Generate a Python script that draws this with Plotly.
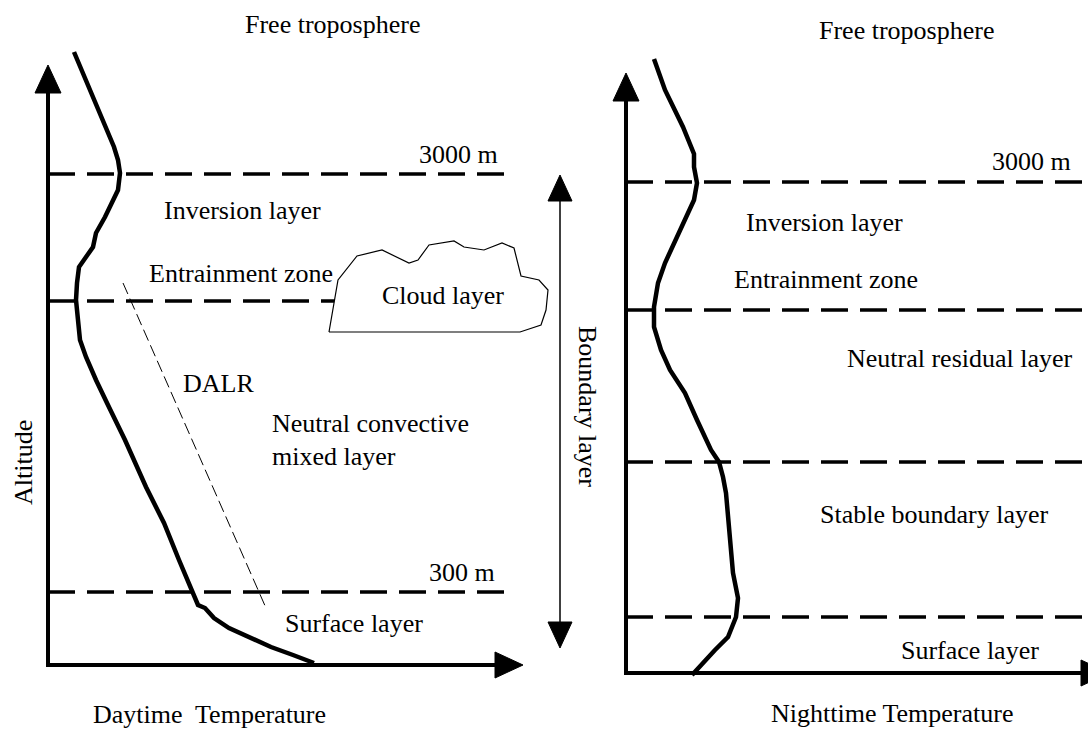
import plotly.graph_objects as go

W, H = 1088, 731

# ---- data: temperature profiles (diagram coordinates) ----
day_x = [74, 86, 104, 114, 118, 120, 118, 112, 105, 96, 93, 86, 79, 77, 76, 78, 80, 86, 91, 96,
         107, 125, 146, 164, 179, 186, 193, 198, 205, 214, 229, 250, 271, 293, 314]
day_y = [52, 80, 123, 147, 160, 173, 190, 203, 217, 233, 247, 257, 267, 283, 300, 320, 340, 357, 370, 380,
         403, 440, 487, 523, 560, 577, 593, 605, 608, 618, 628, 638, 647, 655, 663]

night_x = [654, 665, 683, 694, 694, 697, 694, 686, 676, 665, 658, 654, 654, 661, 670, 685, 697, 711,
           719, 723, 726, 733, 738, 736, 728, 715, 692]
night_y = [59, 90, 127, 154, 167, 183, 200, 217, 240, 263, 283, 307, 327, 350, 370, 393, 420, 450,
           462, 477, 493, 573, 598, 617, 637, 650, 675]

dalr_x = [123, 266]
dalr_y = [283, 608]

cloud_x = [329, 338, 357, 382, 409, 418, 429, 454, 464, 484, 502, 514, 521, 539, 548, 546, 541, 520, 329]
cloud_y = [332, 280, 256, 250, 263, 260, 245, 241, 247, 250, 243, 248, 276, 280, 290, 310, 325, 332, 332]

day_levels = [174, 301, 592]
night_levels = [182, 310, 462, 617]

# ---- layout geometry ----
day_origin = (48, 665)
day_top, day_right = 65, 523
night_origin = (626, 673)
night_top, night_right = 73, 1109
day_dash_end = 504
bl_x, bl_top, bl_bottom = 560, 175, 648

fig = go.Figure()

def line(xs, ys, width=4, dash="solid", color="black"):
    fig.add_trace(go.Scatter(x=xs, y=ys, mode="lines",
                             line=dict(color=color, width=width, dash=dash),
                             hoverinfo="skip", showlegend=False))

def head(tip, direction, length=28, half=13):
    tx, ty = tip
    if direction == "up":
        xs = [tx, tx - half, tx + half, tx]; ys = [ty, ty + length, ty + length, ty]
    elif direction == "down":
        xs = [tx, tx - half, tx + half, tx]; ys = [ty, ty - length, ty - length, ty]
    else:  # right
        xs = [tx, tx - length, tx - length, tx]; ys = [ty, ty - half, ty + half, ty]
    fig.add_trace(go.Scatter(x=xs, y=ys, mode="lines", fill="toself", fillcolor="black",
                             line=dict(color="black", width=1), hoverinfo="skip", showlegend=False))

dash_pat = "27px,12px"

# dashed level lines (left)
for y in day_levels:
    line([day_origin[0], day_dash_end], [y, y], width=3.5, dash=dash_pat)
# dashed level lines (right)
for y in night_levels:
    line([night_origin[0], W + 10], [y, y], width=3.5, dash=dash_pat)

# DALR thin dashed line
line(dalr_x, dalr_y, width=1, dash="12px,5px")

# cloud
fig.add_trace(go.Scatter(x=cloud_x, y=cloud_y, mode="lines", fill="toself", fillcolor="white",
                         line=dict(color="black", width=1.2), hoverinfo="skip", showlegend=False))

# axes left
line([day_origin[0], day_origin[0]], [day_origin[1], day_top + 20], width=4)
line([day_origin[0] - 2, day_right - 20], [day_origin[1], day_origin[1]], width=4)
head((day_origin[0], day_top), "up")
head((day_right, day_origin[1]), "right")

# axes right
line([night_origin[0], night_origin[0]], [night_origin[1], night_top + 20], width=4)
line([night_origin[0] - 2, night_right - 20], [night_origin[1], night_origin[1]], width=4)
head((night_origin[0], night_top), "up")
head((night_right, night_origin[1]), "right")

# boundary layer double arrow
line([bl_x, bl_x], [bl_top + 20, bl_bottom - 20], width=1.5)
head((bl_x, bl_top), "up", length=26, half=12)
head((bl_x, bl_bottom), "down", length=26, half=12)

# profiles
line(day_x, day_y, width=4.5)
line(night_x, night_y, width=4.5)

FONT = dict(family="Liberation Serif, Times New Roman, serif", size=26, color="black")

texts = [
    ("Free troposphere", 332, 24, "center", 0),
    ("3000 m", 458, 154, "center", 0),
    ("Inversion layer", 242, 210, "center", 0),
    ("Entrainment zone", 147, 273, "left", 0),
    ("Cloud layer", 443, 295, "center", 0),
    ("DALR", 218, 383, "center", 0),
    ("Neutral convective", 270, 423, "left", 0),
    ("mixed layer", 270, 456, "left", 0),
    ("300 m", 462, 572, "center", 0),
    ("Surface layer", 354, 623, "center", 0),
    ("Daytime  Temperature", 209, 714, "center", 0),
    ("Altitude", 23, 463, "center", -90),
    ("Boundary layer", 588, 406, "center", 90),
    ("Free troposphere", 906, 30, "center", 0),
    ("3000 m", 1031, 161, "center", 0),
    ("Inversion layer", 824, 222, "center", 0),
    ("Entrainment zone", 826, 279, "center", 0),
    ("Neutral residual layer", 960, 358, "center", 0),
    ("Stable boundary layer", 934, 514, "center", 0),
    ("Surface layer", 970, 650, "center", 0),
    ("Nighttime Temperature", 892, 713, "center", 0),
]
for t, x, y, anc, ang in texts:
    fig.add_annotation(x=x, y=y, text=t, showarrow=False, xanchor=anc, yanchor="middle",
                       textangle=ang, font=FONT, xref="x", yref="y")

fig.update_layout(
    width=W, height=H, margin=dict(l=0, r=0, t=0, b=0),
    paper_bgcolor="white", plot_bgcolor="white",
    xaxis=dict(range=[0, W], visible=False, fixedrange=True),
    yaxis=dict(range=[H, 0], visible=False, fixedrange=True),
    showlegend=False,
)

fig.write_html(
    "out.html",
    config={"displayModeBar": False},
    post_script="document.documentElement.style.margin='0';document.body.style.margin='0';document.body.style.overflow='hidden';",
)
